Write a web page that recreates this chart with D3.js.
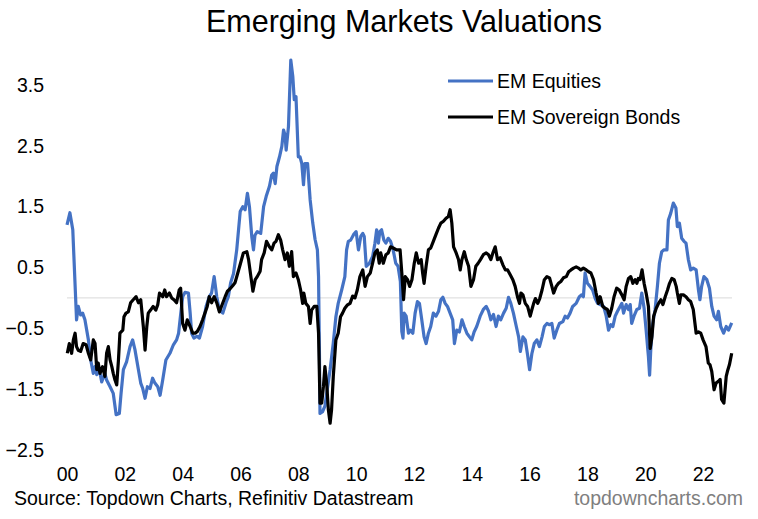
<!DOCTYPE html>
<html>
<head>
<meta charset="utf-8">
<script src="https://cdn.jsdelivr.net/npm/d3@7"></script>
<style>
  html, body { margin: 0; padding: 0; background: #ffffff; }
  svg { display: block; }
  text { font-family: "Liberation Sans", Arial, Helvetica, sans-serif; }
</style>
</head>
<body>
<svg id="chart" width="758" height="519"></svg>
<script>
// ---- Data (decimal years, z-score valuations) ----
const eqDates = [2000.0,2000.1,2000.2,2000.33,2000.39,2000.47,2000.54,2000.62,2000.74,2000.82,2000.91,2000.97,2001.03,2001.12,2001.2,2001.31,2001.37,2001.49,2001.6,2001.7,2001.81,2001.87,2001.95,2002.06,2002.18,2002.27,2002.35,2002.47,2002.55,2002.62,2002.7,2002.78,2002.87,2002.96,2003.04,2003.14,2003.22,2003.31,2003.42,2003.56,2003.68,2003.79,2003.86,2003.91,2004.0,2004.08,2004.2,2004.26,2004.31,2004.39,2004.49,2004.58,2004.69,2004.81,2004.92,2005.0,2005.09,2005.18,2005.27,2005.39,2005.5,2005.58,2005.66,2005.76,2005.87,2005.99,2006.08,2006.16,2006.24,2006.31,2006.39,2006.45,2006.5,2006.58,2006.7,2006.8,2006.89,2007.0,2007.08,2007.14,2007.2,2007.26,2007.35,2007.43,2007.49,2007.54,2007.58,2007.66,2007.74,2007.81,2007.86,2007.92,2008.0,2008.06,2008.12,2008.18,2008.23,2008.32,2008.41,2008.5,2008.58,2008.66,2008.7,2008.73,2008.75,2008.84,2008.92,2009.0,2009.1,2009.21,2009.3,2009.38,2009.5,2009.61,2009.67,2009.73,2009.81,2009.91,2010.0,2010.08,2010.16,2010.23,2010.28,2010.35,2010.46,2010.57,2010.65,2010.71,2010.77,2010.82,2010.88,2010.96,2011.03,2011.11,2011.19,2011.28,2011.37,2011.45,2011.53,2011.58,2011.62,2011.66,2011.73,2011.81,2011.87,2011.96,2012.04,2012.12,2012.19,2012.27,2012.35,2012.42,2012.5,2012.58,2012.67,2012.76,2012.85,2012.93,2013.0,2013.08,2013.16,2013.25,2013.34,2013.4,2013.48,2013.57,2013.66,2013.74,2013.83,2013.92,2014.0,2014.08,2014.17,2014.29,2014.4,2014.5,2014.58,2014.66,2014.75,2014.84,2014.92,2015.0,2015.1,2015.19,2015.27,2015.35,2015.44,2015.54,2015.62,2015.68,2015.77,2015.85,2015.93,2016.0,2016.08,2016.16,2016.25,2016.34,2016.43,2016.51,2016.6,2016.69,2016.77,2016.85,2016.94,2017.03,2017.15,2017.23,2017.31,2017.4,2017.49,2017.61,2017.72,2017.8,2017.86,2017.92,2018.0,2018.09,2018.18,2018.27,2018.35,2018.44,2018.56,2018.65,2018.73,2018.81,2018.88,2018.96,2019.04,2019.13,2019.19,2019.25,2019.34,2019.42,2019.48,2019.53,2019.61,2019.71,2019.8,2019.88,2019.96,2020.03,2020.11,2020.15,2020.19,2020.26,2020.34,2020.42,2020.49,2020.57,2020.65,2020.75,2020.8,2020.88,2020.97,2021.06,2021.11,2021.18,2021.26,2021.34,2021.41,2021.49,2021.57,2021.66,2021.76,2021.84,2021.89,2021.95,2022.03,2022.13,2022.22,2022.3,2022.38,2022.47,2022.53,2022.61,2022.71,2022.8,2022.88,2022.99];
const eqValues = [1.20,1.40,1.12,-0.36,-0.14,-0.28,-0.25,-0.36,-0.69,-1.02,-1.24,-1.13,-1.26,-1.18,-1.38,-1.24,-1.35,-1.46,-1.57,-1.92,-1.90,-1.57,-1.18,-1.05,-0.80,-0.69,-0.85,-1.18,-1.40,-1.49,-1.65,-1.46,-1.49,-1.32,-1.40,-1.46,-1.60,-1.35,-1.02,-0.91,-0.77,-0.69,-0.58,-0.36,0.02,0.09,0.08,-0.25,-0.58,-0.66,-0.63,-0.66,-0.47,-0.14,0.02,0.08,0.35,0.02,-0.20,-0.25,-0.08,0.02,0.25,0.40,0.79,1.42,1.50,1.45,1.72,1.50,1.01,0.79,1.03,1.09,1.06,1.50,1.67,1.83,2.02,2.05,1.88,2.16,2.32,2.49,2.76,2.68,2.43,2.82,3.91,3.64,3.26,3.31,2.32,2.32,2.21,1.86,2.21,2.21,1.61,1.23,0.96,0.79,0.35,-0.86,-1.90,-1.87,-1.78,-1.51,-1.18,-0.74,-0.31,-0.09,0.13,0.35,0.79,0.93,0.95,1.04,1.09,0.79,1.01,1.06,1.01,0.52,0.57,0.68,0.90,1.12,0.90,1.09,1.12,0.95,0.90,0.98,0.93,0.79,0.57,0.52,0.27,-0.55,-0.66,-0.25,-0.30,-0.58,-0.53,-0.58,-0.25,-0.06,-0.09,-0.36,-0.64,-0.75,-0.58,-0.47,-0.25,-0.30,-0.22,-0.03,0.01,-0.09,-0.14,-0.25,-0.36,-0.75,-0.53,-0.56,-0.36,-0.47,-0.58,-0.64,-0.69,-0.56,-0.47,-0.30,-0.19,-0.14,-0.22,-0.36,-0.27,-0.47,-0.30,-0.36,-0.25,-0.17,0.01,-0.09,-0.25,-0.47,-0.64,-0.88,-0.64,-0.69,-0.94,-1.18,-0.91,-0.75,-0.69,-0.80,-0.64,-0.47,-0.42,-0.44,-0.42,-0.66,-0.53,-0.42,-0.39,-0.30,-0.33,-0.25,-0.14,-0.09,0.02,0.05,0.02,0.41,0.24,0.19,0.13,-0.01,-0.09,-0.11,-0.14,-0.30,-0.53,-0.44,-0.47,-0.30,-0.22,-0.14,-0.09,-0.25,-0.11,-0.19,-0.11,-0.42,-0.30,-0.19,-0.17,0.08,-0.17,-0.53,-0.97,-1.27,-0.86,-0.42,-0.19,0.19,0.57,0.76,0.79,0.79,1.28,1.39,1.56,1.48,1.17,1.23,0.98,0.93,0.90,0.63,0.46,0.49,0.46,0.13,-0.03,0.19,0.35,0.30,0.16,-0.14,-0.30,-0.36,-0.22,-0.47,-0.58,-0.47,-0.53,-0.41];

const bondDates = [2000.01,2000.08,2000.16,2000.22,2000.28,2000.33,2000.39,2000.47,2000.56,2000.66,2000.74,2000.82,2000.91,2000.97,2001.03,2001.08,2001.14,2001.23,2001.31,2001.37,2001.43,2001.49,2001.55,2001.6,2001.66,2001.72,2001.78,2001.83,2001.93,2001.97,2002.04,2002.12,2002.2,2002.29,2002.39,2002.47,2002.55,2002.64,2002.7,2002.76,2002.81,2002.89,2002.98,2003.07,2003.14,2003.2,2003.31,2003.38,2003.44,2003.54,2003.62,2003.7,2003.79,2003.88,2003.93,2004.0,2004.08,2004.16,2004.26,2004.35,2004.43,2004.51,2004.6,2004.69,2004.77,2004.85,2004.92,2005.0,2005.09,2005.18,2005.27,2005.39,2005.47,2005.55,2005.64,2005.73,2005.81,2005.89,2005.99,2006.1,2006.22,2006.28,2006.36,2006.43,2006.51,2006.58,2006.68,2006.73,2006.82,2006.9,2007.0,2007.08,2007.16,2007.23,2007.31,2007.39,2007.46,2007.54,2007.62,2007.69,2007.77,2007.83,2007.92,2008.0,2008.08,2008.15,2008.19,2008.26,2008.35,2008.41,2008.46,2008.55,2008.64,2008.7,2008.75,2008.81,2008.87,2008.92,2008.98,2009.04,2009.1,2009.15,2009.21,2009.3,2009.38,2009.46,2009.53,2009.61,2009.69,2009.79,2009.88,2009.96,2010.04,2010.13,2010.23,2010.31,2010.39,2010.49,2010.57,2010.65,2010.73,2010.8,2010.85,2010.94,2011.03,2011.11,2011.19,2011.28,2011.4,2011.52,2011.58,2011.64,2011.7,2011.78,2011.85,2011.93,2012.01,2012.08,2012.16,2012.25,2012.3,2012.35,2012.42,2012.5,2012.58,2012.67,2012.76,2012.85,2012.93,2013.02,2013.11,2013.19,2013.25,2013.31,2013.37,2013.46,2013.54,2013.6,2013.66,2013.74,2013.81,2013.89,2013.97,2014.06,2014.14,2014.22,2014.3,2014.4,2014.5,2014.58,2014.66,2014.73,2014.81,2014.89,2014.98,2015.08,2015.16,2015.24,2015.33,2015.42,2015.5,2015.58,2015.65,2015.7,2015.77,2015.85,2015.93,2016.02,2016.08,2016.14,2016.2,2016.28,2016.35,2016.43,2016.51,2016.6,2016.69,2016.77,2016.83,2016.92,2017.0,2017.08,2017.17,2017.27,2017.35,2017.43,2017.52,2017.61,2017.69,2017.77,2017.86,2017.96,2018.04,2018.12,2018.21,2018.3,2018.38,2018.44,2018.53,2018.61,2018.69,2018.76,2018.84,2018.92,2019.01,2019.1,2019.19,2019.27,2019.34,2019.42,2019.5,2019.57,2019.65,2019.71,2019.76,2019.82,2019.89,2019.96,2020.03,2020.11,2020.17,2020.23,2020.29,2020.38,2020.46,2020.54,2020.61,2020.69,2020.77,2020.84,2020.92,2021.0,2021.07,2021.11,2021.18,2021.23,2021.32,2021.41,2021.49,2021.57,2021.66,2021.76,2021.84,2021.92,2022.0,2022.1,2022.18,2022.24,2022.3,2022.38,2022.45,2022.53,2022.59,2022.64,2022.72,2022.8,2022.84,2022.91,2022.99];
const bondValues = [-0.91,-0.75,-0.91,-0.69,-0.58,-0.80,-0.86,-0.88,-0.75,-0.77,-0.91,-1.02,-0.69,-0.75,-1.18,-1.07,-1.24,-1.13,-1.29,-0.91,-0.80,-1.02,-1.13,-1.24,-1.35,-1.43,-1.02,-0.58,-0.53,-0.31,-0.25,-0.23,-0.08,-0.03,0.02,-0.08,-0.03,-0.47,-0.86,-0.47,-0.25,-0.20,-0.14,-0.20,-0.11,0.08,0.02,0.13,0.02,0.08,0.00,-0.03,-0.08,0.13,0.16,-0.42,-0.53,-0.36,-0.47,-0.58,-0.58,-0.55,-0.47,-0.36,-0.25,-0.14,0.02,-0.08,0.02,-0.08,-0.23,-0.08,0.02,0.11,0.15,0.20,0.25,0.38,0.55,0.74,0.76,0.63,0.35,0.11,0.30,0.35,0.44,0.63,0.74,0.93,0.84,0.79,0.90,0.93,1.04,0.95,0.79,0.63,0.74,0.52,0.76,0.35,0.41,0.30,0.13,-0.09,0.08,-0.09,-0.14,-0.42,-0.20,-0.14,-0.14,-0.58,-1.73,-1.73,-1.45,-1.13,-1.40,-1.84,-2.06,-1.84,-1.29,-0.69,-0.58,-0.31,-0.25,-0.17,-0.12,-0.09,0.03,0.00,0.13,0.35,0.46,0.19,0.35,0.41,0.57,0.74,0.79,0.57,0.74,0.57,0.71,0.74,0.84,0.82,0.79,0.79,0.41,-0.03,0.35,0.30,0.19,0.30,0.57,0.74,0.57,0.63,0.41,0.24,0.52,0.79,0.82,0.93,1.04,1.15,1.23,1.26,1.31,1.34,1.45,1.23,0.84,0.74,0.63,0.46,0.63,0.76,0.63,0.52,0.19,0.30,0.52,0.57,0.63,0.71,0.74,0.71,0.63,0.74,0.84,0.63,0.66,0.54,0.46,0.46,0.38,0.30,0.19,0.02,-0.09,0.08,0.05,-0.09,-0.14,-0.30,-0.19,-0.09,-0.01,-0.09,-0.01,0.13,0.30,0.35,0.33,0.19,0.08,0.19,0.24,0.27,0.33,0.35,0.43,0.46,0.49,0.51,0.49,0.46,0.49,0.46,0.43,0.41,0.30,0.08,-0.09,0.02,-0.14,-0.17,-0.19,-0.30,-0.17,0.02,0.16,0.13,0.05,-0.03,0.19,0.32,0.35,0.24,0.30,0.24,0.32,0.30,0.46,0.24,0.08,-0.14,-0.83,-0.64,-0.30,-0.17,-0.09,-0.03,-0.11,0.02,0.13,0.24,0.32,0.30,0.19,0.08,-0.09,0.05,0.05,0.02,-0.03,-0.06,-0.19,-0.58,-0.56,-0.58,-0.69,-0.80,-1.07,-1.10,-1.21,-1.51,-1.40,-1.37,-1.34,-1.67,-1.73,-1.29,-1.21,-1.10,-0.91];

const yTicks = [3.5, 2.5, 1.5, 0.5, -0.5, -1.5, -2.5];
const xTicks = [2000, 2002, 2004, 2006, 2008, 2010, 2012, 2014, 2016, 2018, 2020, 2022];
const xTickLabels = ["00", "02", "04", "06", "08", "10", "12", "14", "16", "18", "20", "22"];
const seriesNames = ["EM Equities", "EM Sovereign Bonds"];

// ---- Chart ----
const FONT = 19.5;
const svg = d3.select("#chart");
svg.append("rect").attr("width", 758).attr("height", 519).attr("fill", "#ffffff");

const x = d3.scaleLinear().domain([2000, 2023]).range([67, 732]);
const y = d3.scaleLinear().domain([-2.5, 3.5]).range([450, 85]);

// title
svg.append("text")
  .attr("x", 404).attr("y", 32)
  .attr("text-anchor", "middle")
  .attr("font-size", 30.5)
  .attr("fill", "#000")
  .text("Emerging Markets Valuations");

// zero line
svg.append("line")
  .attr("x1", x(2000)).attr("x2", x(2023))
  .attr("y1", y(0)).attr("y2", y(0))
  .attr("stroke", "#d9d9d9").attr("stroke-width", 1);

// y axis
const yAxis = svg.append("g")
  .attr("transform", "translate(50,0)")
  .call(d3.axisLeft(y).tickValues(yTicks).tickSize(0).tickPadding(6).tickFormat(d3.format(".1f")));
yAxis.select(".domain").remove();
yAxis.selectAll("text").attr("font-size", FONT).attr("fill", "#000")
  .attr("font-family", "'Liberation Sans', Arial, sans-serif");

// x axis
const xAxis = svg.append("g")
  .attr("transform", "translate(0,461)")
  .call(d3.axisBottom(x).tickValues(xTicks).tickSize(0).tickPadding(6)
    .tickFormat((d, i) => xTickLabels[i]));
xAxis.select(".domain").remove();
xAxis.selectAll("text").attr("font-size", FONT).attr("fill", "#000")
  .attr("font-family", "'Liberation Sans', Arial, sans-serif");

// lines
const line = d3.line().x(d => x(d[0])).y(d => y(d[1])).curve(d3.curveLinear);
const eqData = eqDates.map((d, i) => [d, eqValues[i]]);
const bondData = bondDates.map((d, i) => [d, bondValues[i]]);

svg.append("path").datum(eqData)
  .attr("d", line).attr("fill", "none")
  .attr("stroke", "#4472C4").attr("stroke-width", 3.2).attr("stroke-linejoin", "round");
svg.append("path").datum(bondData)
  .attr("d", line).attr("fill", "none")
  .attr("stroke", "#000000").attr("stroke-width", 3.2).attr("stroke-linejoin", "round");

// legend
const legendColors = ["#4472C4", "#000000"];
const legend = svg.append("g");
seriesNames.forEach((name, i) => {
  const ly = 81 + i * 36;
  legend.append("line").attr("x1", 448).attr("x2", 493).attr("y1", ly).attr("y2", ly)
    .attr("stroke", legendColors[i]).attr("stroke-width", 3.2);
  legend.append("text").attr("x", 497).attr("y", ly).attr("dy", "0.35em")
    .attr("font-size", FONT).attr("fill", "#000").text(name);
});

// footer
svg.append("text").attr("x", 14).attr("y", 505)
  .attr("font-size", FONT).attr("fill", "#000")
  .text("Source: Topdown Charts, Refinitiv Datastream");
svg.append("text").attr("x", 743).attr("y", 505)
  .attr("text-anchor", "end")
  .attr("font-size", FONT).attr("fill", "#7f7f7f")
  .text("topdowncharts.com");
</script>
</body>
</html>
